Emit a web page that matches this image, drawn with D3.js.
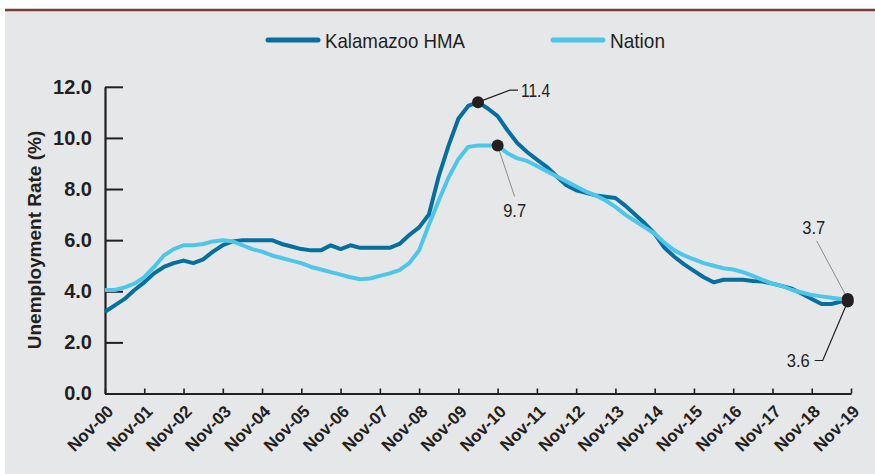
<!DOCTYPE html>
<html><head><meta charset="utf-8">
<script src="https://cdn.jsdelivr.net/npm/d3@7"></script>
<style>body{margin:0;background:#fff}</style>
</head><body>
<svg id="chart" width="875" height="474"></svg>
<script>
// ---- data ----
const seriesNames = ["Kalamazoo HMA", "Nation"];
// months since Nov-2000 (quarterly readings, last = Oct-2019)
const monthOffsets = d3.range(0, 226, 3).concat([227]);
const kalamazoo = [3.2,3.45,3.7,4.05,4.35,4.7,4.95,5.1,5.2,5.1,
  5.25,5.55,5.8,5.95,6.0,6.0,6.0,6.0,5.85,5.75,
  5.65,5.6,5.6,5.8,5.65,5.8,5.7,5.7,5.7,5.7,
  5.85,6.2,6.5,7.0,8.5,9.7,10.75,11.25,11.4,11.15,
  10.85,10.3,9.8,9.45,9.15,8.87,8.5,8.15,7.95,7.85,
  7.75,7.7,7.65,7.35,7.0,6.65,6.25,5.7,5.35,5.05,
  4.8,4.55,4.35,4.45,4.45,4.45,4.4,4.38,4.3,4.2,
  4.1,3.9,3.7,3.5,3.5,3.6,3.6];
const nation = [4.05,4.05,4.15,4.3,4.55,4.95,5.4,5.65,5.8,5.8,
  5.85,5.95,6.0,5.95,5.8,5.65,5.55,5.4,5.3,5.2,
  5.1,4.95,4.85,4.75,4.65,4.55,4.47,4.5,4.6,4.7,
  4.83,5.1,5.6,6.6,7.55,8.45,9.17,9.65,9.7,9.7,
  9.7,9.4,9.2,9.1,8.9,8.7,8.5,8.3,8.1,7.9,
  7.75,7.55,7.3,7.0,6.75,6.5,6.25,5.9,5.6,5.4,
  5.25,5.1,5.0,4.9,4.85,4.75,4.6,4.45,4.3,4.2,
  4.05,3.95,3.85,3.8,3.75,3.7,3.7];
const xTickLabels = ["Nov-00","Nov-01","Nov-02","Nov-03","Nov-04","Nov-05","Nov-06","Nov-07","Nov-08","Nov-09",
  "Nov-10","Nov-11","Nov-12","Nov-13","Nov-14","Nov-15","Nov-16","Nov-17","Nov-18","Nov-19"];
const yTickValues = [0, 2, 4, 6, 8, 10, 12];
const yTitle = "Unemployment Rate (%)";
// highlighted points: [series index, data index, label]
const callouts = [[0, 38, "11.4"], [1, 40, "9.7"], [1, 76, "3.7"], [0, 76, "3.6"]];

// ---- drawing ----
const colors = ["#0570a0", "#4ec6e9"];
const ink = "#231f20";
const svg = d3.select("#chart");

svg.append("rect").attr("x", 0).attr("y", 0).attr("width", 875).attr("height", 474).attr("fill", "#fff");
svg.append("rect").attr("x", 5).attr("y", 10).attr("width", 870).attr("height", 464).attr("fill", "#e6e7e9");
svg.append("line").attr("x1", 5).attr("x2", 875).attr("y1", 10).attr("y2", 10)
  .attr("stroke", "#7a3b3d").attr("stroke-width", 2.5);

const x = d3.scaleLinear().domain([0, 228]).range([105, 851]);
const y = d3.scaleLinear().domain([0, 12]).range([393.5, 86.8]);

// y axis
const yAxis = svg.append("g").attr("transform", "translate(105,0)")
  .call(d3.axisLeft(y).tickValues(yTickValues).tickFormat(d3.format(".1f"))
    .tickSize(-18).tickPadding(13).tickSizeOuter(0));
yAxis.select(".domain").attr("stroke", ink).attr("stroke-width", 2.2);
yAxis.selectAll(".tick line").attr("stroke", ink).attr("stroke-width", 2);
yAxis.selectAll(".tick text").attr("fill", ink)
  .style("font", "bold 20px 'Liberation Sans', Arial, sans-serif");

// x axis
const xAxis = svg.append("g").attr("transform", "translate(0,393.5)")
  .call(d3.axisBottom(x).tickValues(d3.range(0, 229, 12))
    .tickFormat((d, i) => xTickLabels[i]).tickSize(-5).tickSizeOuter(0));
xAxis.select(".domain").attr("stroke", ink).attr("stroke-width", 2.2);
xAxis.selectAll(".tick line").attr("stroke", ink).attr("stroke-width", 1.6);
xAxis.selectAll(".tick text").attr("fill", ink)
  .attr("x", 0).attr("y", 0).attr("dy", null)
  .attr("text-anchor", "end")
  .attr("transform", "translate(9,19) rotate(-45)")
  .style("font", "bold 17px 'Liberation Sans', Arial, sans-serif");

// y title
svg.append("text").text(yTitle)
  .attr("transform", "translate(41,240) rotate(-90)")
  .attr("text-anchor", "middle").attr("fill", ink)
  .style("font", "bold 19px 'Liberation Sans', Arial, sans-serif");

// lines
const seriesData = [kalamazoo, nation];
const line = d3.line().x((d, i) => x(monthOffsets[i])).y(d => y(d));
seriesData.forEach((s, k) => {
  svg.append("path").datum(s).attr("d", line)
    .attr("fill", "none").attr("stroke", colors[k]).attr("stroke-width", 4)
    .attr("stroke-linejoin", "round");
});

// legend
const legendX = [268, 553];
seriesNames.forEach((n, k) => {
  svg.append("line").attr("x1", legendX[k]).attr("x2", legendX[k] + 50).attr("y1", 40).attr("y2", 40)
    .attr("stroke", colors[k]).attr("stroke-width", 5).attr("stroke-linecap", "round");
  svg.append("text").text(n).attr("x", legendX[k] + 57).attr("y", 47.5)
    .attr("fill", ink).attr("textLength", k === 0 ? 140 : 55).attr("lengthAdjust", "spacingAndGlyphs")
    .style("font", "21px 'Liberation Sans', Arial, sans-serif");
});

// callouts
const pt = (c) => [x(monthOffsets[c[1]]), y(seriesData[c[0]][c[1]])];
const lbl = (t, xx, yy, anchor, w) => svg.append("text").text(t).attr("x", xx).attr("y", yy)
  .attr("text-anchor", anchor).attr("fill", ink).attr("textLength", w).attr("lengthAdjust", "spacingAndGlyphs")
  .style("font", "18px 'Liberation Sans', Arial, sans-serif");
// 11.4
{
  const [px, py] = pt(callouts[0]);
  svg.append("path").attr("d", `M${px},${py} L${px + 32},${py - 12} L${px + 40},${py - 12}`)
    .attr("fill", "none").attr("stroke", ink).attr("stroke-width", 1.2);
  lbl(callouts[0][2], px + 43, py - 5, "start", 29);
}
// 9.7
{
  const [px, py] = pt(callouts[1]);
  svg.append("line").attr("x1", px).attr("y1", py).attr("x2", px + 17).attr("y2", py + 51)
    .attr("stroke", "#8a8a8a").attr("stroke-width", 1);
  lbl(callouts[1][2], px + 17, py + 71, "middle", 23);
}
// 3.7
{
  const [px, py] = pt(callouts[2]);
  svg.append("line").attr("x1", px).attr("y1", py).attr("x2", px - 31).attr("y2", py - 58)
    .attr("stroke", "#8a8a8a").attr("stroke-width", 1);
  lbl(callouts[2][2], px - 34, py - 65, "middle", 23);
}
// 3.6
{
  const [px, py] = pt(callouts[3]);
  svg.append("path").attr("d", `M${px},${py} L${px - 25},${py + 59} L${px - 33},${py + 59}`)
    .attr("fill", "none").attr("stroke", ink).attr("stroke-width", 1.2);
  lbl(callouts[3][2], px - 38, py + 66, "end", 23);
}
// markers
callouts.forEach(c => {
  const [px, py] = pt(c);
  svg.append("circle").attr("cx", px).attr("cy", py).attr("r", 6).attr("fill", ink);
});
</script>
</body></html>
